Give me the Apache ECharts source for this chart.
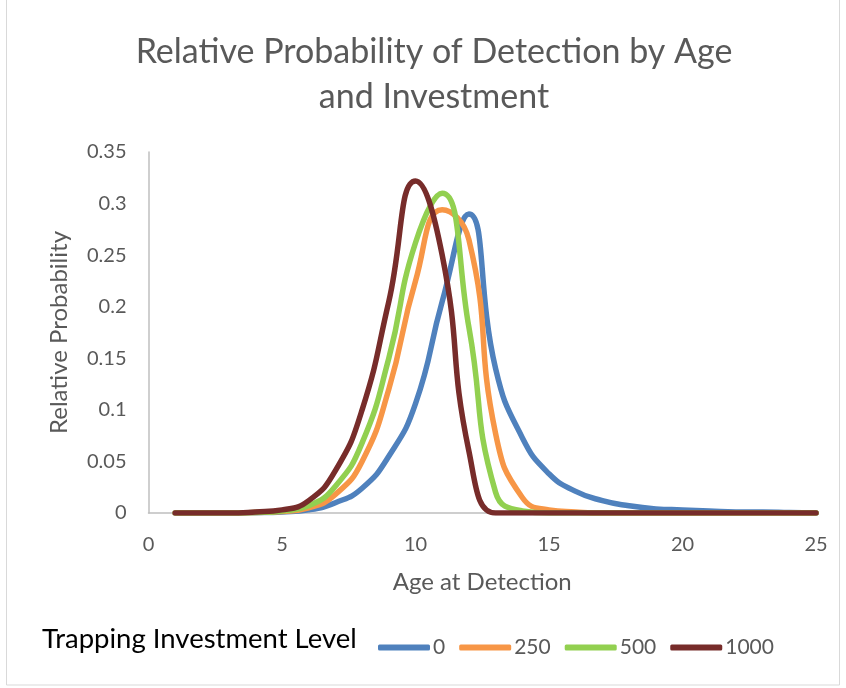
<!DOCTYPE html>
<html>
<head>
<meta charset="utf-8">
<script src="https://cdn.jsdelivr.net/npm/echarts@6/dist/echarts.min.js"></script>
<style>
  html, body { margin: 0; padding: 0; background: #fff; }
  #chart { width: 846px; height: 688px; }
</style>
</head>
<body>
<div id="chart"></div>
<script>
// Age at detection (years)
const ages = [1,2,3,4,5,6,7,8,9,10,11,12,13,14,15,16,17,18,19,20,21,22,23,24,25];

// Relative probability of detection for each trapping investment level
const level0 = [0,0,0,0.0003,0.001,0.003,0.01,0.024,0.055,0.106,0.205,0.29,0.14,0.073,0.038,0.021,0.012,0.007,0.004,0.003,0.002,0.001,0.001,0.0005,0];
const level250 = [0,0,0,0.0005,0.0015,0.005,0.018,0.05,0.12,0.225,0.294,0.265,0.077,0.015,0.003,0.001,0,0,0,0,0,0,0,0,0];
const level500 = [0,0,0,0.0005,0.002,0.007,0.026,0.068,0.15,0.262,0.31,0.18,0.02,0.002,0,0,0,0,0,0,0,0,0,0,0];
const level1000 = [0,0,0,0.001,0.003,0.012,0.041,0.1,0.205,0.322,0.25,0.06,0,0,0,0,0,0,0,0,0,0,0,0,0];

const seriesNames = ['0', '250', '500', '1000'];
const seriesValues = [level0, level250, level500, level1000];
const seriesColors = ['#4f81bd', '#f79646', '#92d050', '#772c2a'];

const xTicks = [0, 5, 10, 15, 20, 25];
const yTicks = [0, 0.05, 0.1, 0.15, 0.2, 0.25, 0.3, 0.35];

const FONT = 'Lato';
const GREY_TEXT = '#595959';

const chart = echarts.init(document.getElementById('chart'), null, { renderer: 'canvas' });

chart.setOption({
  backgroundColor: '#fff',
  animation: false,
  legend: {
    data: seriesNames,
    left: 373,
    top: 632,
    itemWidth: 52,
    itemHeight: 6,
    itemGap: 14,
    icon: 'roundRect',
    textStyle: { fontFamily: FONT, fontSize: 21, color: GREY_TEXT, padding: [0, 0, 0, -2] }
  },
  graphic: [
    {
      // chart title, centred over the plot
      type: 'text',
      x: 434,
      y: 30,
      style: {
        text: 'Relative Probability of Detection by Age\nand Investment',
        fontFamily: FONT,
        fontSize: 34,
        lineHeight: 45,
        fill: GREY_TEXT,
        textAlign: 'center',
        align: 'center'
      }
    },
    {
      type: 'text',
      left: 42,
      top: 625,
      style: {
        text: 'Trapping Investment Level',
        fontFamily: FONT,
        fontSize: 27.5,
        fill: '#000'
      }
    },
    {
      type: 'rect',
      silent: true,
      shape: { x: 6.5, y: -5, width: 833, height: 690 },
      style: { fill: 'none', stroke: '#d9d9d9', lineWidth: 1 }
    }
  ],
  grid: { left: 148.5, right: 30, top: 152, bottom: 175 },
  xAxis: {
    type: 'value',
    min: xTicks[0],
    max: xTicks[xTicks.length - 1],
    interval: 5,
    name: 'Age at Detection',
    nameLocation: 'middle',
    nameGap: 57,
    nameTextStyle: { fontFamily: FONT, fontSize: 24, color: GREY_TEXT },
    axisLine: { show: true, lineStyle: { color: '#bfbfbf', width: 1.5 } },
    axisTick: { show: false },
    splitLine: { show: false },
    axisLabel: { fontFamily: FONT, fontSize: 20, color: GREY_TEXT, margin: 22 }
  },
  yAxis: {
    type: 'value',
    min: yTicks[0],
    max: yTicks[yTicks.length - 1],
    interval: 0.05,
    name: 'Relative Probability',
    nameLocation: 'middle',
    nameGap: 77,
    nameTextStyle: { fontFamily: FONT, fontSize: 24, color: GREY_TEXT },
    axisLine: { show: true, lineStyle: { color: '#bfbfbf', width: 1.5 } },
    axisTick: { show: false },
    splitLine: { show: false },
    axisLabel: {
      fontFamily: FONT, fontSize: 20, color: GREY_TEXT, margin: 22,
      formatter: v => String(+v.toFixed(2))
    }
  },
  series: seriesNames.map((name, i) => ({
    name,
    type: 'line',
    data: ages.map((a, j) => [a, seriesValues[i][j]]),
    smooth: 0.5,
    showSymbol: false,
    symbol: 'none',
    lineStyle: { color: seriesColors[i], width: 5.5, cap: 'round', join: 'round' },
    itemStyle: { color: seriesColors[i] },
    z: 2 + i
  }))
});
</script>
</body>
</html>
